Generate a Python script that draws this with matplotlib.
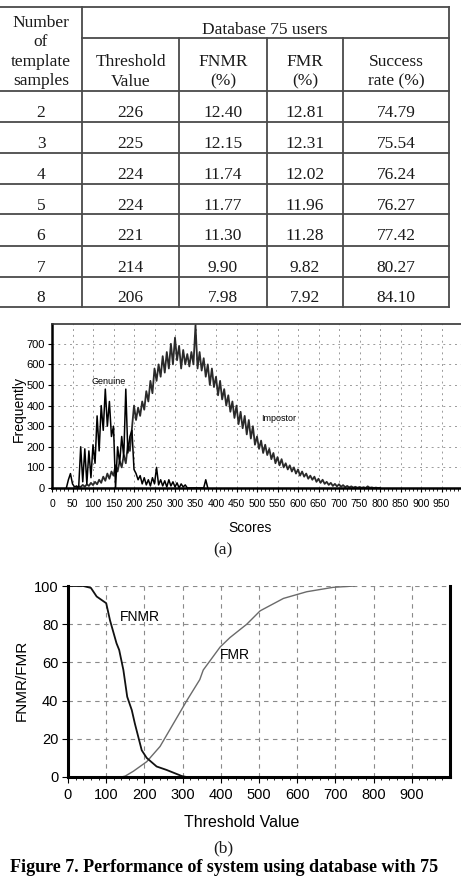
import numpy as np
import matplotlib
matplotlib.use("Agg")
import matplotlib.pyplot as plt

# ---- table data ----
templates = ["2", "3", "4", "5", "6", "7", "8"]
thresholds = ["226", "225", "224", "224", "221", "214", "206"]
fnmr_pct = ["12.40", "12.15", "11.74", "11.77", "11.30", "9.90", "7.98"]
fmr_pct = ["12.81", "12.31", "12.02", "11.96", "11.28", "9.82", "7.92"]
success = ["74.79", "75.54", "76.24", "76.27", "77.42", "80.27", "84.10"]
sub_headers = ["Threshold\nValue", "FNMR\n(%)", "FMR\n(%)", "Success\nrate (%)"]

# ---- (a) score distributions, one value every 5 score units ----
genuine_start = 35
genuine_freq = [
    0, 40, 70, 20, 5, 10, 0, 200, 30, 190,
    20, 180, 50, 210, 120, 350, 180, 400, 280, 480,
    300, 420, 250, 300, 0, 200, 120, 250, 150, 480,
    170, 250, 280, 90, 70, 40, 60, 20, 50, 15,
    40, 10, 50, 20, 100, 15, 40, 10, 35, 5,
    40, 10, 30, 5, 25, 0, 20, 5, 15, 0,
    0, 0, 0, 0, 0, 0, 0, 0, 40, 0,
]
impostor_start = 60
impostor_freq = [
    0, 8, 5, 15, 6, 18, 10, 25, 14, 30,
    18, 40, 25, 55, 35, 70, 45, 80, 60, 110,
    80, 130, 100, 160, 120, 210, 180, 290, 400, 330,
    390, 350, 420, 380, 470, 420, 520, 460, 580, 520,
    600, 540, 640, 560, 660, 580, 700, 600, 730, 620,
    690, 580, 670, 600, 650, 590, 660, 600, 790, 580,
    660, 570, 630, 540, 600, 500, 580, 490, 540, 450,
    520, 430, 480, 400, 450, 370, 420, 340, 400, 310,
    370, 290, 350, 260, 330, 240, 300, 210, 250, 190,
    230, 170, 210, 160, 190, 140, 170, 120, 150, 110,
    140, 100, 120, 90, 110, 80, 100, 70, 90, 60,
    80, 55, 70, 45, 60, 40, 55, 30, 45, 25,
    40, 20, 30, 15, 25, 10, 20, 8, 18, 6,
    14, 4, 10, 3, 8, 2, 6, 1, 5, 1,
    4, 0, 8, 1, 3, 0, 2, 0, 1,
]

# ---- (b) error rates vs threshold ----
fnmr_x = [0, 40, 60, 75, 100, 110, 127, 134, 145, 155, 167, 175, 193, 206, 232, 258, 298, 310, 1000]
fnmr_y = [100, 100, 99, 94.5, 91, 82, 70, 66.5, 56, 42, 35, 28, 14, 10, 5.5, 3.7, 0.5, 0, 0]
fmr_x = [0, 140, 150, 171, 206, 241, 276, 311, 345, 354, 398, 424, 468, 503, 564, 625, 694, 750]
fmr_y = [0, 0, 0.5, 3, 8, 16, 28, 40, 51, 56, 68, 73, 80, 87, 93.5, 97, 99.3, 100]

W, H = 461, 883
fig = plt.figure(figsize=(W / 100, H / 100), dpi=100)
serif = "Liberation Serif"
sans = "Liberation Sans"


def fig_box(left, top, right, bottom):
    return [left / W, 1 - bottom / H, (right - left) / W, (bottom - top) / H]


# ---------- table ----------
tab = fig.add_axes(fig_box(0, 0, W, 312))
tab.set_xlim(0, W)
tab.set_ylim(312, 0)
tab.axis("off")
col_edges = [0, 82, 179, 267, 343, 449]
row_edges = [91, 122, 153, 184, 214, 246, 277, 307]
lc = "#4a4a4a"
lw = 1.3
tab.plot([0, 449], [7, 7], color=lc, lw=lw)
tab.plot([82, 449], [38, 38], color=lc, lw=lw)
for y in row_edges:
    tab.plot([0, 449], [y, y], color=lc, lw=lw)
tab.plot([82, 82], [7, 307], color=lc, lw=lw)
tab.plot([449, 449], [7, 307], color=lc, lw=lw)
for x in col_edges[2:5]:
    tab.plot([x, x], [38, 307], color=lc, lw=lw)

tc = "#1a1a1a"
fs = 12.5
tab.text(41, 52, "Number\nof\ntemplate\nsamples", ha="center", va="center",
         fontsize=fs, family=serif, color=tc, linespacing=1.3)
tab.text(265, 30, "Database 75 users", ha="center", va="center",
         fontsize=fs, family=serif, color=tc)
for i, h in enumerate(sub_headers):
    cx = (col_edges[i + 1] + col_edges[i + 2]) / 2
    tab.text(cx, 72, h, ha="center", va="center", fontsize=fs,
             family=serif, color=tc, linespacing=1.25)
columns = [templates, thresholds, fnmr_pct, fmr_pct, success]
centers = [41] + [(col_edges[i] + col_edges[i + 1]) / 2 for i in range(1, 5)]
for r in range(len(templates)):
    cy = (row_edges[r] + row_edges[r + 1]) / 2 + 6.5
    for c, col in enumerate(columns):
        tab.text(centers[c], cy, col[r], ha="center", va="center",
                 fontsize=fs, family=serif, color=tc)

# ---------- (a) histogram ----------
ax1 = fig.add_axes(fig_box(52, 324, 462, 488))
gx = genuine_start + 5 * np.arange(len(genuine_freq))
ix = impostor_start + 5 * np.arange(len(impostor_freq))
ax1.plot(ix, impostor_freq, color="#2a2a2a", lw=1.3)
ax1.plot(gx, genuine_freq, color="black", lw=1.1)
ax1.set_xlim(0, 1000)
ax1.set_ylim(0, 796)
ax1.set_xticks(np.arange(0, 1000, 50))
ax1.set_xticks(np.arange(0, 1000, 10), minor=True)
ax1.set_yticks(np.arange(0, 800, 100))
ax1.grid(True, color="#9a9a9a", ls=(0, (2, 4)), lw=0.7)
ax1.tick_params(axis="x", labelsize=7.5, length=3, pad=5, direction="out")
ax1.tick_params(axis="x", which="minor", length=2)
ax1.tick_params(axis="y", labelsize=8, length=3, pad=2)
for lab in ax1.get_xticklabels() + ax1.get_yticklabels():
    lab.set_family(sans)
ax1.spines["left"].set_linewidth(1.8)
ax1.spines["bottom"].set_linewidth(1.8)
ax1.spines["top"].set_color("#333333")
ax1.spines["top"].set_linewidth(1.2)
ax1.spines["right"].set_visible(False)
ax1.set_ylabel("Frequently", fontsize=10, family=sans)
ax1.yaxis.set_label_coords(-0.064, 0.48)
ax1.set_xlabel("Scores", fontsize=10, family=sans)
ax1.xaxis.set_label_coords(0.483, -0.20)
ax1.text(139, 515, "Genuine", fontsize=6.5, family=sans, ha="center", va="center")
ax1.text(552, 335, "Impostor", fontsize=6.5, family=sans, ha="center", va="center")
fig.text(223 / W, 1 - 550 / H, "(a)", fontsize=12.5, family=serif, ha="center", va="center", color=tc)

# ---------- (b) FNMR / FMR ----------
ax2 = fig.add_axes(fig_box(68, 586, 450, 777))
ax2.plot(fmr_x, fmr_y, color="#6a6a6a", lw=1.0)
ax2.plot(fnmr_x, fnmr_y, color="#111111", lw=1.3)
ax2.set_xlim(0, 1000)
ax2.set_ylim(0, 100)
ax2.set_xticks(np.arange(0, 1000, 100))
ax2.set_xticks(np.arange(0, 1000, 20), minor=True)
ax2.set_yticks(np.arange(0, 101, 20))
ax2.grid(True, color="#8a8a8a", ls=(0, (4, 4)), lw=0.8)
ax2.tick_params(axis="x", labelsize=10.5, length=4, pad=4)
ax2.tick_params(axis="x", which="minor", length=2.5)
ax2.tick_params(axis="y", labelsize=10.5, length=4, pad=3)
for lab in ax2.get_xticklabels() + ax2.get_yticklabels():
    lab.set_family(sans)
for s in ["left", "bottom", "right"]:
    ax2.spines[s].set_linewidth(2.2)
ax2.spines["top"].set_visible(False)
ax2.set_xlabel("Threshold Value", fontsize=11.5, family=sans)
ax2.xaxis.set_label_coords(0.455, -0.20)
ax2.set_ylabel("FNMR/FMR", fontsize=11, family=sans)
ax2.yaxis.set_label_coords(-0.102, 0.508)
ax2.text(136, 84, "FNMR", fontsize=10, family=sans, ha="left", va="center")
ax2.text(398, 64, "FMR", fontsize=10, family=sans, ha="left", va="center")
fig.text(223 / W, 1 - 848 / H, "(b)", fontsize=12.5, family=serif, ha="center", va="center", color=tc)

fig.text(10 / W, 1 - 868 / H, "Figure 7. Performance of system using database with 75",
         fontsize=13, family=serif, weight="bold", ha="left", va="center", color="black")

fig.savefig("out.png", dpi=100)
